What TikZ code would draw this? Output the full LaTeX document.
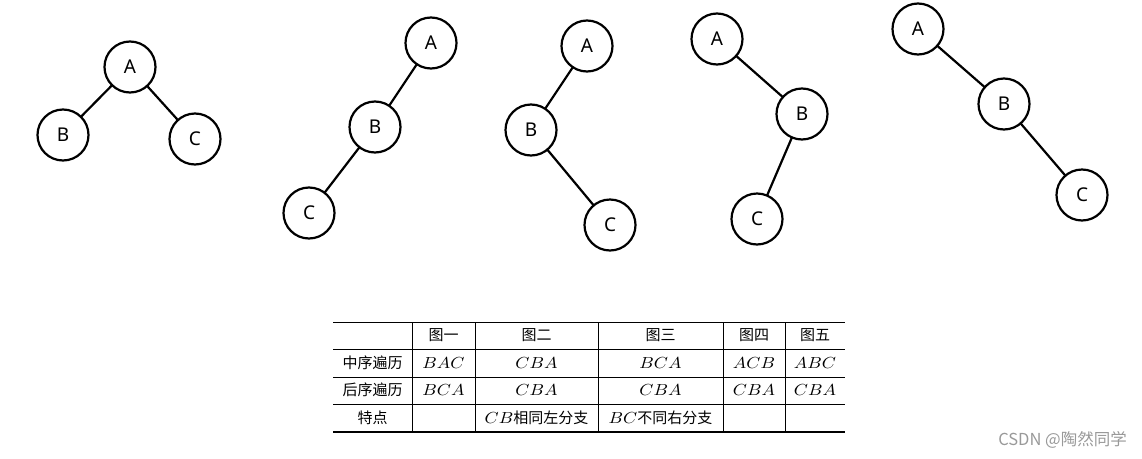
\documentclass[tikz,border=0pt]{standalone}
\usepackage{fontspec}
\setmainfont{Noto Sans}
\newfontfamily\cjk{Noto Sans CJK SC}
\usetikzlibrary{positioning}
\newcommand\mth[1]{\scalebox{1.8}[1.6]{\fontsize{10}{12}\selectfont$#1$}}

\begin{document}
\begin{tikzpicture}[x=1pt, y=-1pt,
    vertex/.style={draw, circle, line width=2.2pt, minimum size=51pt, inner sep=0pt,
        font=\fontsize{19}{19}\selectfont},
    edge/.style={line width=2.2pt, shorten <=-2pt, shorten >=-1pt},
    cell/.style={font=\cjk\fontsize{15}{15}\selectfont, inner sep=0pt}]
    \useasboundingbox (0,0) rectangle (1142,458);

    % Tree one
    \node (A1) [vertex] at (130,67) {A};
    \node (B1) [vertex] at (63,135) {B};
    \node (C1) [vertex] at (195,139) {C};
    \draw[edge] (A1) -- (B1);
    \draw[edge] (A1) -- (C1);

    % Tree two
    \node (A2) [vertex] at (431,43) {A};
    \node (B2) [vertex] at (375,127) {B};
    \node (C2) [vertex] at (309,213) {C};
    \draw[edge] (A2) -- (B2);
    \draw[edge] (B2) -- (C2);

    % Tree three
    \node (A3) [vertex] at (587,46) {A};
    \node (B3) [vertex] at (531,130) {B};
    \node (C3) [vertex] at (610,225) {C};
    \draw[edge] (A3) -- (B3);
    \draw[edge] (B3) -- (C3);

    % Tree four
    \node (A4) [vertex] at (717,39) {A};
    \node (B4) [vertex] at (802,114) {B};
    \node (C4) [vertex] at (757,219) {C};
    \draw[edge] (A4) -- (B4);
    \draw[edge] (B4) -- (C4);

    % Tree five
    \node (A5) [vertex] at (918,29) {A};
    \node (B5) [vertex] at (1004,104) {B};
    \node (C5) [vertex] at (1082,195) {C};
    \draw[edge] (A5) -- (B5);
    \draw[edge] (B5) -- (C5);

    % Table rules
    \draw[line width=1pt] (333,322) -- (845,322);
    \draw[line width=0.8pt] (333,349) -- (845,349);
    \draw[line width=0.8pt] (333,377) -- (845,377);
    \draw[line width=0.8pt] (333,404) -- (845,404);
    \draw[line width=1.2pt] (333,432) -- (845,432);
    \foreach \x in {412,475,598,723,785}
        \draw[line width=0.8pt] (\x,322) -- (\x,432);

    % Table header
    \node (h1) [cell] at (443.5,335.5) {图一};
    \node (h2) [cell] at (536.5,335.5) {图二};
    \node (h3) [cell] at (660.5,335.5) {图三};
    \node (h4) [cell] at (754,335.5) {图四};
    \node (h5) [cell] at (815,335.5) {图五};

    % In-order row
    \node (r1) [cell] at (372.5,363) {中序遍历};
    \node (r1a) [cell] at (443.5,363) {\mth{BAC}};
    \node (r1b) [cell] at (536.5,363) {\mth{CBA}};
    \node (r1c) [cell] at (660.5,363) {\mth{BCA}};
    \node (r1d) [cell] at (754,363) {\mth{ACB}};
    \node (r1e) [cell] at (815,363) {\mth{ABC}};

    % Post-order row
    \node (r2) [cell] at (372.5,390) {后序遍历};
    \node (r2a) [cell] at (443.5,390) {\mth{BCA}};
    \node (r2b) [cell] at (536.5,390) {\mth{CBA}};
    \node (r2c) [cell] at (660.5,390) {\mth{CBA}};
    \node (r2d) [cell] at (754,390) {\mth{CBA}};
    \node (r2e) [cell] at (815,390) {\mth{CBA}};

    % Remarks row
    \node (r3) [cell] at (372.5,418) {特点};
    \node (r3b) [cell] at (536.5,418) {\mth{CB}相同左分支};
    \node (r3c) [cell] at (660.5,418) {\mth{BC}不同右分支};

    % Watermark
    \node (wm) [anchor=east, inner sep=0pt, text=black!40,
        font=\cjk\fontsize{16.5}{16.5}\selectfont] at (1127,440) {CSDN @陶然同学};
\end{tikzpicture}
\end{document}
